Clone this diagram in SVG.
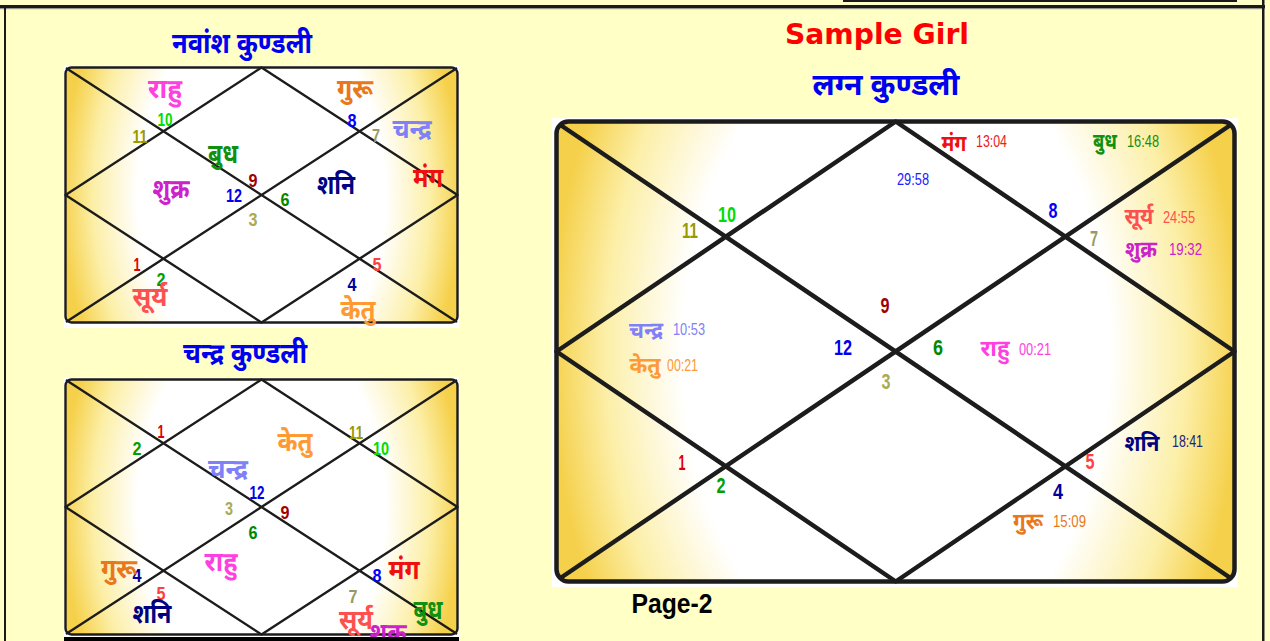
<svg xmlns="http://www.w3.org/2000/svg" width="1270" height="641" viewBox="0 0 1270 641">
<defs>
<style>
.dv{font-family:"Noto Sans Devanagari","Lohit Devanagari","Noto Sans",sans-serif;font-weight:bold;text-anchor:middle}
.ds{font-size:27px}
.dm{font-size:23px}
.tt{font-size:28px;fill:#0000F0}
.n{font-family:"Liberation Sans",Arial,sans-serif;font-weight:bold;text-anchor:middle;font-size:18px}
.nl{font-size:22px}
.tm{font-family:"Liberation Sans",Arial,sans-serif;font-size:16px}
.ln{stroke:#1c1c1c;fill:none;stroke-linejoin:round}
.c1{fill:#E00000}.c2{fill:#00A000}.c3{fill:#AAAA55}.c4{fill:#000099}.c5{fill:#FF4040}.c6{fill:#008800}
.c7{fill:#999966}.c8{fill:#0000FF}.c9{fill:#A00000}.c10{fill:#00DD00}.c11{fill:#999900}.c12{fill:#0000EE}
.ra{fill:#FF40E0}.gu{fill:#E8781A}.ch{fill:#8080F8}.ma{fill:#EE1010}.bu{fill:#109010}.sk{fill:#CC22CC}.sn{fill:#000080}.su{fill:#FF5050}.ke{fill:#FF9933}
</style>
<radialGradient id="gN" gradientUnits="userSpaceOnUse" cx="261.5" cy="195" r="200" gradientTransform="translate(261.5 195) scale(1 1.5) translate(-261.5 -195)">
<stop offset="0" stop-color="#FFFFFF"/><stop offset="0.62" stop-color="#FFFFFF"/><stop offset="0.84" stop-color="#FCEFA8"/><stop offset="1" stop-color="#F5D04A"/>
</radialGradient>
<radialGradient id="gC" gradientUnits="userSpaceOnUse" cx="261.5" cy="507" r="200" gradientTransform="translate(261.5 507) scale(1 1.5) translate(-261.5 -507)">
<stop offset="0" stop-color="#FFFFFF"/><stop offset="0.62" stop-color="#FFFFFF"/><stop offset="0.84" stop-color="#FCEFA8"/><stop offset="1" stop-color="#F5D04A"/>
</radialGradient>
<radialGradient id="gL" gradientUnits="userSpaceOnUse" cx="895.75" cy="351.5" r="345" gradientTransform="translate(895.75 351.5) scale(1 1.5) translate(-895.75 -351.5)">
<stop offset="0" stop-color="#FFFFFF"/><stop offset="0.62" stop-color="#FFFFFF"/><stop offset="0.84" stop-color="#FCEFA8"/><stop offset="1" stop-color="#F5D04A"/>
</radialGradient>
</defs>
<rect width="1270" height="641" fill="#FFFFC6"/>
<g id="frame">
<rect x="0" y="5" width="1265" height="3.2" fill="#1a1a1a"/>
<rect x="0" y="8.2" width="1265" height="1" fill="#8a8a80"/>
<rect x="4" y="8" width="2" height="633" fill="#1a1a1a"/>
<rect x="1262" y="0" width="2.5" height="641" fill="#1a1a1a"/>
<rect x="843" y="0" width="394" height="2" fill="#1a1a1a"/>
</g>
<g id="title">
<text x="877" y="44" font-family="DejaVu Sans,Verdana,sans-serif" font-weight="bold" font-size="28" fill="#FF0000" text-anchor="middle" textLength="184" lengthAdjust="spacingAndGlyphs">Sample Girl</text>
</g>
<g id="navamsa">
<text class="dv tt" x="242" y="53" textLength="140" lengthAdjust="spacingAndGlyphs">नवांश कुण्डली</text>
<rect x="64" y="66" width="395" height="262" fill="#FFFFFF"/>
<rect x="65.5" y="67.5" width="392" height="255" rx="6" fill="url(#gN)"/>
<g class="ln" stroke-width="2.4">
<path d="M66 68L457 322M457 68L66 322M261.5 67.5L457.5 195L261.5 322.5L65.5 195Z"/>
<rect x="65.5" y="67.5" width="392" height="255" rx="6"/>
</g>
<g class="n">
<text class="c10" x="165" y="126" textLength="15" lengthAdjust="spacingAndGlyphs">10</text>
<text class="c11" x="140" y="143" textLength="15" lengthAdjust="spacingAndGlyphs">11</text>
<text class="c8" x="352" y="127" textLength="9" lengthAdjust="spacingAndGlyphs">8</text>
<text class="c7" x="376" y="142" textLength="8" lengthAdjust="spacingAndGlyphs">7</text>
<text class="c9" x="253" y="187" textLength="9" lengthAdjust="spacingAndGlyphs">9</text>
<text class="c12" x="234" y="202" textLength="16" lengthAdjust="spacingAndGlyphs">12</text>
<text class="c6" x="285" y="206" textLength="9" lengthAdjust="spacingAndGlyphs">6</text>
<text class="c3" x="253" y="226" textLength="9" lengthAdjust="spacingAndGlyphs">3</text>
<text class="c1" x="137" y="271" textLength="7" lengthAdjust="spacingAndGlyphs">1</text>
<text class="c2" x="161" y="286" textLength="9" lengthAdjust="spacingAndGlyphs">2</text>
<text class="c4" x="352" y="291" textLength="9" lengthAdjust="spacingAndGlyphs">4</text>
<text class="c5" x="377" y="271" textLength="9" lengthAdjust="spacingAndGlyphs">5</text>
</g>
<g class="dv ds">
<text class="ra" x="165" y="98" textLength="34" lengthAdjust="spacingAndGlyphs">राहु</text>
<text class="gu" x="355" y="98" textLength="36" lengthAdjust="spacingAndGlyphs">गुरू</text>
<text class="ch" x="412" y="138" textLength="39" lengthAdjust="spacingAndGlyphs">चन्द्र</text>
<text class="ma" x="428" y="187" textLength="30" lengthAdjust="spacingAndGlyphs">मंग</text>
<text class="bu" x="223" y="163" textLength="30" lengthAdjust="spacingAndGlyphs">बुध</text>
<text class="sk" x="171" y="198" textLength="37" lengthAdjust="spacingAndGlyphs">शुक्र</text>
<text class="sn" x="336" y="194" textLength="38" lengthAdjust="spacingAndGlyphs">शनि</text>
<text class="su" x="150" y="306" textLength="35" lengthAdjust="spacingAndGlyphs">सूर्य</text>
<text class="ke" x="358" y="319" textLength="35" lengthAdjust="spacingAndGlyphs">केतु</text>
</g>
</g>
<g id="chandra">
<text class="dv tt" x="245" y="363" textLength="124" lengthAdjust="spacingAndGlyphs">चन्द्र कुण्डली</text>
<rect x="64" y="377" width="395" height="262" fill="#FFFFFF"/>
<rect x="65.5" y="379.5" width="392" height="255" rx="6" fill="url(#gC)"/>
<g class="ln" stroke-width="2.4">
<path d="M66 380L457 634M457 380L66 634M261.5 379.5L457.5 507L261.5 634.5L65.5 507Z"/>
<rect x="65.5" y="379.5" width="392" height="255" rx="6"/>
</g>
<g class="n">
<text class="c1" x="161" y="438" textLength="7" lengthAdjust="spacingAndGlyphs">1</text>
<text class="c2" x="137" y="455" textLength="9" lengthAdjust="spacingAndGlyphs">2</text>
<text class="c11" x="356" y="439" textLength="14" lengthAdjust="spacingAndGlyphs">11</text>
<text class="c10" x="381" y="455" textLength="16" lengthAdjust="spacingAndGlyphs">10</text>
<text class="c12" x="257" y="499" textLength="15" lengthAdjust="spacingAndGlyphs">12</text>
<text class="c3" x="229" y="515" textLength="8" lengthAdjust="spacingAndGlyphs">3</text>
<text class="c9" x="285" y="519" textLength="9" lengthAdjust="spacingAndGlyphs">9</text>
<text class="c6" x="253" y="539" textLength="9" lengthAdjust="spacingAndGlyphs">6</text>
<text class="c4" x="137" y="582" textLength="9" lengthAdjust="spacingAndGlyphs">4</text>
<text class="c5" x="161" y="600" textLength="9" lengthAdjust="spacingAndGlyphs">5</text>
<text class="c8" x="377" y="582" textLength="9" lengthAdjust="spacingAndGlyphs">8</text>
<text class="c7" x="353" y="603" textLength="9" lengthAdjust="spacingAndGlyphs">7</text>
</g>
<g class="dv ds">
<text class="ke" x="295" y="451" textLength="35" lengthAdjust="spacingAndGlyphs">केतु</text>
<text class="ch" x="228" y="478" textLength="40" lengthAdjust="spacingAndGlyphs">चन्द्र</text>
<text class="ra" x="221" y="571" textLength="33" lengthAdjust="spacingAndGlyphs">राहु</text>
<text class="gu" x="119" y="578" textLength="36" lengthAdjust="spacingAndGlyphs">गुरू</text>
<text class="sn" x="152" y="623" textLength="39" lengthAdjust="spacingAndGlyphs">शनि</text>
<text class="ma" x="404" y="579" textLength="31" lengthAdjust="spacingAndGlyphs">मंग</text>
<text class="bu" x="428" y="619" textLength="29" lengthAdjust="spacingAndGlyphs">बुध</text>
<text class="su" x="356" y="629" textLength="34" lengthAdjust="spacingAndGlyphs">सूर्य</text>
<text class="sk" x="388" y="642" textLength="37" lengthAdjust="spacingAndGlyphs">शुक्र</text>
</g>
<rect x="64" y="637" width="395" height="4" fill="#000000"/>
</g>
<g id="lagna">
<text class="dv" x="886" y="95" font-size="30" fill="#0000F0" textLength="147" lengthAdjust="spacingAndGlyphs">लग्न कुण्डली</text>
<rect x="552" y="118" width="686" height="469" fill="#FFFFFF"/>
<rect x="556.5" y="121.5" width="678" height="460" rx="12" fill="url(#gL)"/>
<g class="ln" stroke-width="4.5">
<path d="M559 124L1232 579M1232 124L559 579M895.75 121.5L1234.5 351.5L895.75 581.5L556.5 351.5Z"/>
<rect x="556.5" y="121.5" width="678" height="460" rx="12"/>
</g>
<g class="n nl">
<text class="c10" x="727" y="222" textLength="18" lengthAdjust="spacingAndGlyphs">10</text>
<text class="c11" x="690" y="238" textLength="16" lengthAdjust="spacingAndGlyphs">11</text>
<text class="c9" x="885" y="313" textLength="9" lengthAdjust="spacingAndGlyphs">9</text>
<text class="c12" x="843" y="355" textLength="18" lengthAdjust="spacingAndGlyphs">12</text>
<text class="c8" x="1053" y="218" textLength="9" lengthAdjust="spacingAndGlyphs">8</text>
<text class="c7" x="1094" y="246" textLength="8" lengthAdjust="spacingAndGlyphs">7</text>
<text class="c6" x="938" y="355" textLength="10" lengthAdjust="spacingAndGlyphs">6</text>
<text class="c3" x="886" y="389" textLength="9" lengthAdjust="spacingAndGlyphs">3</text>
<text class="c1" x="682" y="470" textLength="7" lengthAdjust="spacingAndGlyphs">1</text>
<text class="c2" x="721" y="493" textLength="9" lengthAdjust="spacingAndGlyphs">2</text>
<text class="c5" x="1090" y="469" textLength="9" lengthAdjust="spacingAndGlyphs">5</text>
<text class="c4" x="1058" y="499" textLength="10" lengthAdjust="spacingAndGlyphs">4</text>
</g>
<g class="dv dm">
<text class="ma" x="954" y="151" textLength="25" lengthAdjust="spacingAndGlyphs">मंग</text>
<text class="bu" x="1105" y="149" textLength="24" lengthAdjust="spacingAndGlyphs">बुध</text>
<text class="su" x="1139" y="224" textLength="29" lengthAdjust="spacingAndGlyphs">सूर्य</text>
<text class="sk" x="1141" y="257" textLength="32" lengthAdjust="spacingAndGlyphs">शुक्र</text>
<text class="ra" x="995" y="356" textLength="29" lengthAdjust="spacingAndGlyphs">राहु</text>
<text class="ch" x="646" y="338" textLength="34" lengthAdjust="spacingAndGlyphs">चन्द्र</text>
<text class="ke" x="645" y="373" textLength="31" lengthAdjust="spacingAndGlyphs">केतु</text>
<text class="sn" x="1142" y="451" textLength="35" lengthAdjust="spacingAndGlyphs">शनि</text>
<text class="gu" x="1028" y="529" textLength="30" lengthAdjust="spacingAndGlyphs">गुरू</text>
</g>
<g class="tm">
<text x="976" y="147" fill="#E82020" textLength="31" lengthAdjust="spacingAndGlyphs">13:04</text>
<text x="1127" y="147" fill="#109010" textLength="32" lengthAdjust="spacingAndGlyphs">16:48</text>
<text x="897" y="185" fill="#2020FF" textLength="32" lengthAdjust="spacingAndGlyphs">29:58</text>
<text x="1163" y="223" fill="#FF5050" textLength="32" lengthAdjust="spacingAndGlyphs">24:55</text>
<text x="1169" y="255" fill="#CC22CC" textLength="33" lengthAdjust="spacingAndGlyphs">19:32</text>
<text x="1019" y="355" fill="#FF40E0" textLength="32" lengthAdjust="spacingAndGlyphs">00:21</text>
<text x="673" y="335" fill="#8080F8" textLength="32" lengthAdjust="spacingAndGlyphs">10:53</text>
<text x="667" y="371" fill="#FF9933" textLength="31" lengthAdjust="spacingAndGlyphs">00:21</text>
<text x="1172" y="447" fill="#202080" textLength="31" lengthAdjust="spacingAndGlyphs">18:41</text>
<text x="1053" y="527" fill="#E8781A" textLength="33" lengthAdjust="spacingAndGlyphs">15:09</text>
</g>
</g>
<g id="page">
<text x="672" y="613" font-family="Liberation Sans,Arial,sans-serif" font-weight="bold" font-size="27" fill="#000000" text-anchor="middle" textLength="81" lengthAdjust="spacingAndGlyphs">Page-2</text>
</g>
</svg>
